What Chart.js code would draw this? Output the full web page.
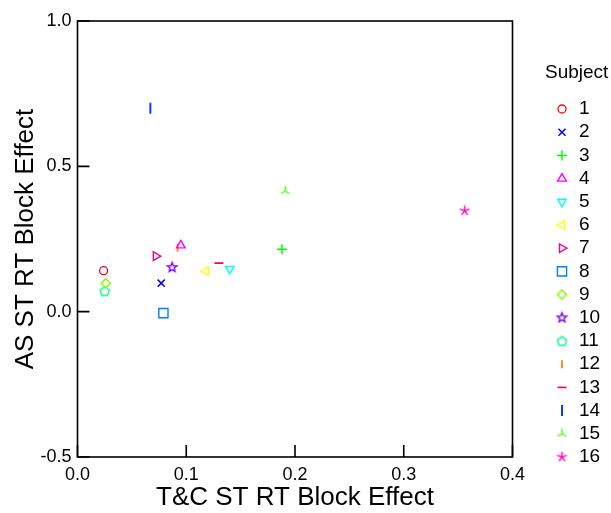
<!DOCTYPE html>
<html><head><meta charset="utf-8">
<script src="https://cdn.jsdelivr.net/npm/chart.js@4"></script>
<style>html,body{margin:0;padding:0;background:#fff;overflow:hidden}#wrap{width:611px;height:513px;position:relative}</style>
</head><body><div id="wrap"><canvas id="c" width="611" height="513"></canvas></div>
<script>
// ---- data ----
const subjects = ['1','2','3','4','5','6','7','8','9','10','11','12','13','14','15','16'];
const tcEffect = [0.024, 0.077, 0.188, 0.095, 0.140, 0.118, 0.072, 0.079, 0.026, 0.087, 0.025, 0.092, 0.130, 0.067, 0.191, 0.356];
const asEffect = [0.141, 0.098, 0.215, 0.228, 0.147, 0.139, 0.191, -0.005, 0.098, 0.152, 0.071, 0.220, 0.167, 0.700, 0.415, 0.347];
const colors = ['#ff0000','#0000ff','#00ff00','#ff00ff','#00ffff','#ffff00','#ff0080','#0080ff','#80ff00','#8000ff','#00ff80','#ff8000','#ff0040','#0040ff','#40ff00','#ff00c0'];
const xTickValues = [0, 0.1, 0.2, 0.3, 0.4];
const yTickValues = [-0.5, 0, 0.5, 1.0];
const xTitle = 'T&C ST RT Block Effect';
const yTitle = 'AS ST RT Block Effect';
const legendTitle = 'Subject';

// ---- custom markers ----
function marker(color, lw, fn) {
  const s = 15, c = document.createElement('canvas');
  c.width = s; c.height = s;
  const g = c.getContext('2d');
  g.strokeStyle = color; g.lineWidth = lw; g.lineJoin = 'miter';
  g.translate(s / 2, s / 2);
  g.beginPath(); fn(g); g.stroke();
  return c;
}
const star5 = marker(colors[9], 1.4, g => {
  for (let k = 0; k < 10; k++) {
    const r = k % 2 ? 2.2 : 5;
    const a = -Math.PI / 2 + k * Math.PI / 5;
    const px = r * Math.cos(a), py = r * Math.sin(a);
    k ? g.lineTo(px, py) : g.moveTo(px, py);
  }
  g.closePath();
});
const pentagon = marker(colors[10], 1.4, g => {
  for (let k = 0; k < 5; k++) {
    const a = -Math.PI / 2 + k * 2 * Math.PI / 5;
    const px = 4.8 * Math.cos(a), py = 4.8 * Math.sin(a) + 0.4;
    k ? g.lineTo(px, py) : g.moveTo(px, py);
  }
  g.closePath();
});
const triUp = marker(colors[14], 1.4, g => {
  [-90, 30, 150].forEach(d => {
    const a = d * Math.PI / 180;
    g.moveTo(0, 0); g.lineTo(5 * Math.cos(a), 5 * Math.sin(a));
  });
});
const aster5 = marker(colors[15], 1.4, g => {
  for (let k = 0; k < 5; k++) {
    const a = -Math.PI / 2 + k * 2 * Math.PI / 5;
    g.moveTo(0, 0); g.lineTo(5.2 * Math.cos(a), 5.2 * Math.sin(a));
  }
});

const styles = [
  {pointStyle: 'circle', radius: 4, rotation: 0, borderWidth: 1.3},
  {pointStyle: 'crossRot', radius: 5, rotation: 0, borderWidth: 1.5},
  {pointStyle: 'cross', radius: 5, rotation: 0, borderWidth: 1.5},
  {pointStyle: 'triangle', radius: 5, rotation: 0, borderWidth: 1.4},
  {pointStyle: 'triangle', radius: 5, rotation: 180, borderWidth: 1.4},
  {pointStyle: 'triangle', radius: 5, rotation: 270, borderWidth: 1.4},
  {pointStyle: 'triangle', radius: 5, rotation: 90, borderWidth: 1.4},
  {pointStyle: 'rect', radius: 6.5, rotation: 0, borderWidth: 1.4},
  {pointStyle: 'rectRot', radius: 4.5, rotation: 0, borderWidth: 1.4},
  {pointStyle: star5, radius: 5, rotation: 0, borderWidth: 1},
  {pointStyle: pentagon, radius: 5, rotation: 0, borderWidth: 1},
  {pointStyle: 'line', radius: 4, rotation: 90, borderWidth: 1.8},
  {pointStyle: 'line', radius: 4.5, rotation: 0, borderWidth: 1.6},
  {pointStyle: 'line', radius: 5.5, rotation: 90, borderWidth: 2},
  {pointStyle: triUp, radius: 5, rotation: 0, borderWidth: 1},
  {pointStyle: aster5, radius: 5, rotation: 0, borderWidth: 1}
];

const datasets = subjects.map((s, i) => ({
  label: s,
  data: [{x: tcEffect[i], y: asEffect[i]}],
  borderColor: colors[i],
  backgroundColor: 'rgba(0,0,0,0)',
  pointStyle: styles[i].pointStyle,
  pointRadius: styles[i].radius,
  pointRotation: styles[i].rotation,
  pointBorderWidth: styles[i].borderWidth,
  pointHoverRadius: styles[i].radius
}));

const FONT = '"Liberation Sans", Arial, Helvetica, sans-serif';

const framePlugin = {
  id: 'frame',
  beforeDatasetsDraw(chart) {
    const {ctx, chartArea: a, scales} = chart;
    ctx.save();
    ctx.strokeStyle = '#000'; ctx.lineWidth = 1.6;
    ctx.strokeRect(a.left, a.top, a.right - a.left, a.bottom - a.top);
    ctx.beginPath();
    yTickValues.forEach(v => {
      const p = scales.y.getPixelForValue(v);
      ctx.moveTo(a.left, p); ctx.lineTo(a.left + 12, p);
    });
    xTickValues.forEach(v => {
      const p = scales.x.getPixelForValue(v);
      ctx.moveTo(p, a.bottom); ctx.lineTo(p, a.bottom - 12);
    });
    ctx.stroke();
    ctx.restore();
  }
};

const legendPlugin = {
  id: 'customLegend',
  afterDraw(chart) {
    const ctx = chart.ctx;
    ctx.save();
    ctx.fillStyle = '#000';
    ctx.font = '19px ' + FONT;
    ctx.textBaseline = 'middle';
    ctx.textAlign = 'left';
    ctx.fillText(legendTitle, 545, 73);
    const dp = Chart.helpers && Chart.helpers.drawPoint;
    subjects.forEach((s, i) => {
      const y = 109 + i * 23.2;
      ctx.save();
      ctx.strokeStyle = colors[i];
      ctx.fillStyle = 'rgba(0,0,0,0)';
      ctx.lineWidth = styles[i].borderWidth;
      if (dp) dp(ctx, {pointStyle: styles[i].pointStyle, rotation: styles[i].rotation, radius: styles[i].radius, borderWidth: styles[i].borderWidth}, 562, y);
      ctx.restore();
      ctx.fillStyle = '#000';
      ctx.font = '19px ' + FONT;
      ctx.textBaseline = 'middle';
      ctx.fillText(s, 579, y);
    });
    ctx.restore();
  }
};

new Chart(document.getElementById('c'), {
  type: 'scatter',
  data: {datasets},
  options: {
    responsive: false,
    animation: false,
    devicePixelRatio: 1,
    layout: {padding: {left: 0, top: 21, right: 98.5, bottom: 0}},
    plugins: {legend: {display: false}, tooltip: {enabled: false}},
    scales: {
      x: {
        type: 'linear', min: 0, max: 0.4,
        afterFit(s) { s.height = 56; },
        afterBuildTicks(s) { s.ticks = xTickValues.map(v => ({value: v})); },
        grid: {display: false, drawTicks: false},
        border: {display: false},
        ticks: {padding: 7, color: '#000', font: {size: 18, family: FONT}, callback: v => Number(v).toFixed(1), maxRotation: 0, autoSkip: false},
        title: {display: true, text: xTitle, color: '#000', font: {size: 26, family: FONT}, padding: {top: 0, bottom: 0}}
      },
      y: {
        type: 'linear', min: -0.5, max: 1.0,
        afterFit(s) { s.width = 77.5; },
        afterBuildTicks(s) { s.ticks = yTickValues.map(v => ({value: v})); },
        grid: {display: false, drawTicks: false},
        border: {display: false},
        ticks: {padding: 6, color: '#000', font: {size: 18, family: FONT}, callback: v => Number(v).toFixed(1), autoSkip: false},
        title: {display: true, text: yTitle, color: '#000', font: {size: 26, family: FONT}, padding: {top: 10, bottom: 0}}
      }
    }
  },
  plugins: [framePlugin, legendPlugin]
});
</script>
</body></html>
